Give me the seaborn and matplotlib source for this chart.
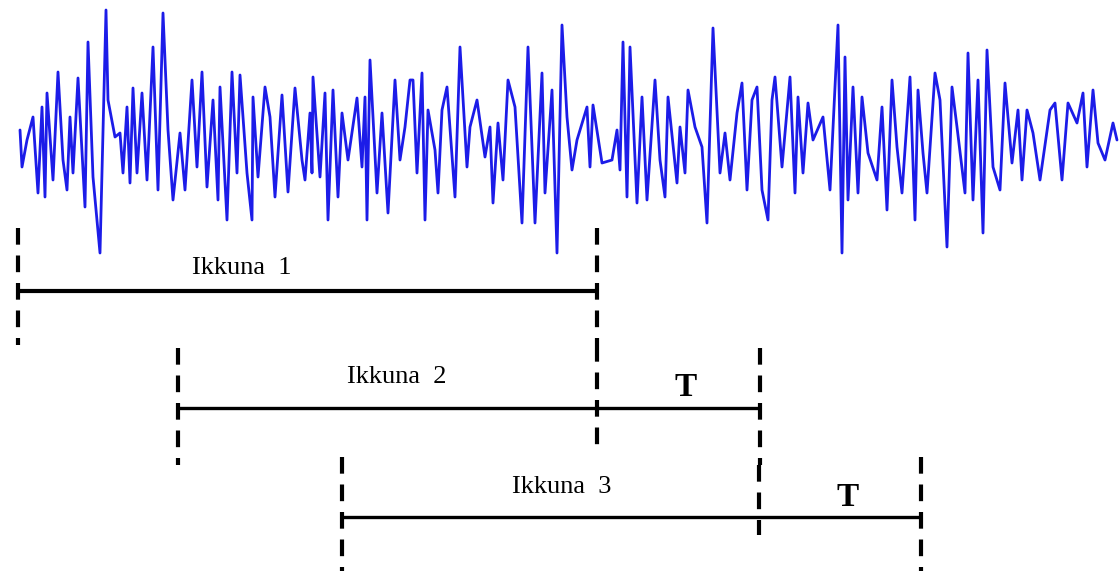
import numpy as np
import pandas as pd
import matplotlib
matplotlib.use("Agg")
import matplotlib.pyplot as plt
import seaborn as sns

# signal (x position, vertical level; y grows downward)
signal_x = [20, 22, 27, 33, 38, 42, 45, 47, 53, 58, 63, 67, 70, 73, 78, 85, 88, 93, 100, 106,
            108, 115, 120, 123, 127, 130, 133, 137, 142, 147, 153, 158, 163, 168, 173, 180, 185, 192, 197, 202,
            207, 213, 218, 220, 227, 232, 237, 240, 247, 252, 253, 258, 265, 270, 275, 282, 288, 295, 302, 305,
            310, 312, 313, 320, 325, 328, 333, 338, 342, 348, 357, 362, 365, 367, 370, 377, 382, 388, 395, 400,
            405, 410, 413, 417, 422, 425, 428, 435, 438, 442, 447, 455, 460, 467, 470, 477, 485, 490, 493, 498,
            503, 508, 515, 522, 528, 535, 542, 545, 552, 557, 562, 567, 572, 577, 587, 590, 593, 602, 612, 617,
            620, 623, 627, 630, 637, 642, 647, 655, 660, 665, 668, 677, 680, 685, 688, 695, 702, 707, 713, 720,
            725, 730, 737, 742, 747, 752, 757, 762, 768, 772, 775, 782, 790, 795, 798, 803, 808, 813, 823, 830,
            838, 842, 845, 848, 853, 858, 862, 868, 877, 882, 887, 892, 897, 902, 910, 915, 918, 923, 927, 935,
            940, 947, 952, 957, 965, 968, 973, 978, 983, 987, 993, 1000, 1005, 1012, 1018, 1022, 1027, 1033, 1040, 1050,
            1055, 1062, 1068, 1077, 1083, 1087, 1093, 1098, 1105, 1113, 1117]
signal_y = [130, 167, 140, 117, 193, 107, 197, 93, 180, 72, 160, 190, 117, 173, 78, 207, 42, 177, 253, 10,
            100, 137, 133, 173, 107, 183, 88, 173, 93, 180, 47, 190, 13, 130, 200, 133, 190, 80, 167, 72,
            187, 100, 200, 87, 220, 72, 173, 75, 173, 220, 97, 177, 87, 117, 197, 95, 192, 88, 160, 180,
            113, 173, 77, 177, 93, 220, 90, 197, 113, 160, 98, 167, 97, 220, 60, 193, 113, 213, 80, 160,
            127, 80, 80, 173, 73, 220, 110, 150, 193, 110, 87, 197, 47, 167, 127, 100, 157, 127, 203, 123,
            180, 80, 107, 223, 47, 223, 73, 193, 90, 253, 25, 117, 170, 140, 107, 167, 105, 163, 160, 130,
            170, 42, 197, 47, 203, 97, 200, 80, 160, 197, 97, 183, 127, 173, 90, 127, 147, 223, 28, 173,
            133, 180, 113, 83, 190, 100, 87, 190, 220, 100, 77, 167, 77, 193, 97, 173, 103, 140, 117, 190,
            25, 253, 57, 200, 87, 193, 97, 153, 180, 107, 210, 80, 147, 193, 77, 220, 90, 153, 193, 73,
            100, 247, 87, 127, 193, 53, 200, 80, 233, 50, 167, 190, 83, 163, 110, 180, 110, 133, 180, 110,
            103, 180, 103, 123, 93, 167, 90, 143, 160, 123, 140]

# analysis windows
window_labels = ["Ikkuna  1", "Ikkuna  2", "Ikkuna  3"]
window_start = [18, 178, 342]
window_end = [597, 760, 921]
window_level = [291, 408, 517]
window_top = [228, 348, 457]
window_bottom = [345, 465, 571]
window_lw = [3.0, 2.4, 2.4]
label_x = [242, 397, 562]
label_y = [268, 377, 487]

# step T between consecutive windows
step_x = [686, 848]
step_y = [388, 497]
step_text = ["T", "T"]
# end of previous window reaching down into the next row
carry_x = [597, 759]
carry_top = [345, 465]
carry_bottom = [447, 535]

sns.set_style("white")

fig = plt.figure(figsize=(11.19, 5.71), dpi=100)
ax = fig.add_axes([0, 0, 1, 1])

df = pd.DataFrame({"x": signal_x, "y": signal_y})
sns.lineplot(data=df, x="x", y="y", sort=False, color="#1c1ce8", linewidth=2.0, ax=ax)

dash = (0, (4, 2.6))
for i in range(3):
    ax.plot([window_start[i], window_end[i]], [window_level[i], window_level[i]],
            color="black", linewidth=window_lw[i], solid_capstyle="butt")
    for xv in (window_start[i], window_end[i]):
        ax.plot([xv, xv], [window_top[i], window_bottom[i]], color="black",
                linewidth=3.0, linestyle=dash)
    ax.text(label_x[i], label_y[i], window_labels[i], ha="center", va="center",
            fontsize=19, color="black", family="Liberation Serif")

for i in range(2):
    ax.plot([carry_x[i], carry_x[i]], [carry_top[i], carry_bottom[i]], color="black",
            linewidth=3.0, linestyle=dash)
    ax.text(step_x[i], step_y[i], step_text[i], ha="center", va="center",
            fontsize=24, fontweight="bold", color="black", family="Liberation Serif")

ax.set_xlim(0, 1119)
ax.set_ylim(571, 0)
ax.set_axis_off()

fig.savefig("out.png", dpi=100, facecolor="white")
